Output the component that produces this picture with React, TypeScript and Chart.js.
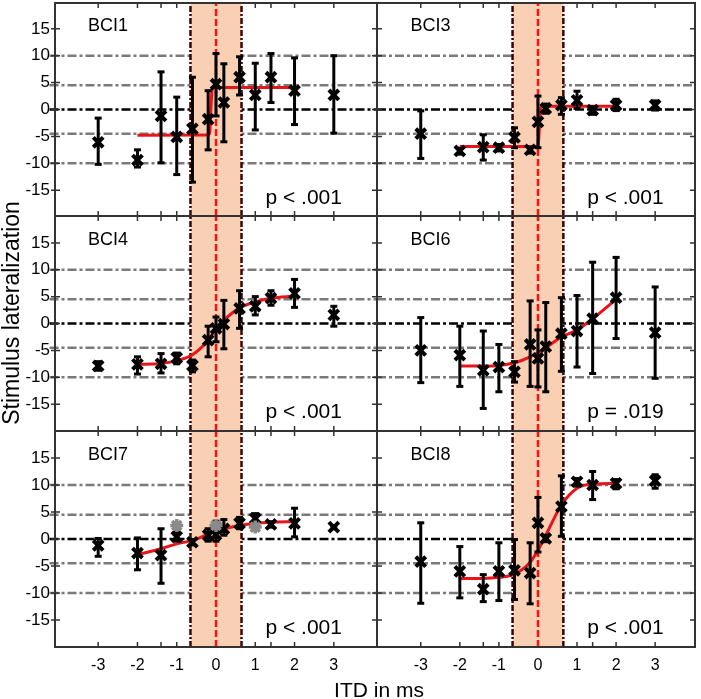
import React, { useEffect, useRef } from 'react';
import { Chart, registerables } from 'chart.js';

Chart.register(...registerables);

const FONT = '"Liberation Sans", Arial, Helvetica, sans-serif';
Chart.defaults.font.family = FONT;

// ---------- data ----------
const ITD = [-3, -2, -1.4, -1, -0.6, -0.2, 0, 0.2, 0.6, 1, 1.4, 2, 3];
const X_TICK_LABELS = [-3, -2, -1, 0, 1, 2, 3];
const X_MINOR_TICKS = [-3, -2, -1.4, -1, 1, 1.4, 2, 3];
const Y_TICKS = [-15, -10, -5, 0, 5, 10, 15];
const GRAY_REF_LINES = [-10, -4.5, 4.5, 10];
const ZERO_LINE = 0;
const BAND_EDGES = [-0.65, 0.65];
const CENTER_LINE = 0;

const BCI1_MEAN = [-6.1, -9.4, -1.2, -5.1, -3.6, -1.8, 4.7, 1.3, 6.0, 2.7, 6.0, 3.5, 2.7];
const BCI1_LO = [-10.2, -10.7, -9.9, -12.1, -13.5, -7.5, -1.2, -6.0, 2.7, -3.8, 1.3, -2.8, -4.4];
const BCI1_HI = [-1.6, -7.5, 7.0, 2.3, 6.0, 3.5, 10.4, 8.5, 9.8, 8.6, 10.4, 9.6, 10.0];
const BCI1_FIT_X = [-2, -0.2, -0.16, -0.13, -0.1, -0.05, 2];
const BCI1_FIT_Y = [-4.8, -4.75, -4.2, 0, 3.7, 4.1, 4.1];

const BCI3_MEAN = [-4.5, -7.7, -7.0, -7.1, -5.2, -7.5, -2.3, 0.2, 0.8, 1.7, -0.1, 0.8, 0.8];
const BCI3_LO = [-9.1, -8.3, -9.4, -7.7, -7.1, -8.1, -7.1, -0.7, -0.9, 0.2, -0.9, -0.2, -0.1];
const BCI3_HI = [-0.25, -7.2, -4.7, -6.5, -3.4, -7.0, 2.5, 1.0, 2.2, 3.4, 0.5, 1.9, 1.6];
const BCI3_FIT_X = [-2, -0.02, 0.01, 0.04, 0.07, 0.12, 2];
const BCI3_FIT_Y = [-6.9, -6.9, -6.3, -3.0, 0.2, 0.6, 0.6];

const BCI4_MEAN = [-7.9, -7.6, -7.5, -6.4, -7.8, -3.1, -0.9, -0.1, 2.8, 3.2, 4.7, 5.6, 1.6];
const BCI4_LO = [-8.7, -9.4, -9.2, -7.5, -9.0, -6.2, -3.4, -4.7, -0.9, 1.6, 3.4, 3.0, -0.5];
const BCI4_HI = [-7.1, -6.2, -5.6, -5.5, -6.8, -0.5, 1.2, 4.3, 6.1, 5.0, 6.1, 8.2, 3.2];
const BCI4_FIT_X = [-2, -1.4, -1, -0.6, -0.2, 0, 0.2, 0.6, 1, 1.4, 2];
const BCI4_FIT_Y = [-7.6, -7.45, -6.9, -5.8, -3.1, -1.0, 0.6, 2.9, 4.0, 4.7, 5.1];

const BCI6_MEAN = [-5.0, -5.9, -8.7, -8.1, -9.0, -3.9, -6.5, -4.3, -1.9, -1.4, 0.9, 4.8, -1.7];
const BCI6_LO = [-11.0, -11.7, -15.8, -12.7, -10.9, -11.7, -11.8, -12.7, -8.9, -8.1, -9.3, -2.8, -10.2];
const BCI6_HI = [1.1, -0.5, -1.4, -3.9, -7.1, 4.2, -1.2, 3.9, 4.8, 5.2, 11.4, 12.3, 6.8];
const BCI6_FIT_X = [-2, -1.4, -1, -0.6, -0.2, 0.2, 0.6, 1, 1.4, 2];
const BCI6_FIT_Y = [-7.9, -7.9, -7.8, -7.3, -6.2, -4.5, -2.5, -1.2, 0.9, 4.5];

const BCI7_MEAN = [-1.2, -2.6, -3.0, 0.4, -0.6, 0.7, 0.8, 1.9, 2.9, 3.8, 2.7, 2.9, 2.2];
const BCI7_LO = [-3.2, -5.7, -8.2, -0.4, -1.1, -0.4, -0.4, 0.7, 1.9, 2.9, 2.2, 0.4, 1.9];
const BCI7_HI = [0.1, 0.2, 1.9, 1.3, -0.1, 1.9, 3.3, 3.6, 4.0, 4.7, 3.2, 5.7, 2.5];
const BCI7_FIT_X = [-2, -1.4, -1, -0.6, -0.2, 0, 0.2, 0.6, 1, 1.4, 2];
const BCI7_FIT_Y = [-2.9, -1.8, -0.9, -0.25, 0.9, 1.5, 1.9, 2.5, 2.9, 3.1, 3.2];
const BCI7_GRAY_X = [-1, 0, 1];
const BCI7_GRAY_Y = [2.5, 2.5, 2.2];

const BCI8_MEAN = [-4.2, -6.0, -9.3, -6.0, -5.8, -6.3, 3.0, 0.1, 6.0, 10.6, 10.0, 10.3, 10.8];
const BCI8_LO = [-11.9, -10.9, -11.6, -11.4, -11.2, -12.0, -2.4, -0.5, 0.5, 9.8, 7.3, 9.3, 9.4];
const BCI8_HI = [3.0, -1.4, -6.6, -0.7, -0.1, -0.7, 7.7, 0.7, 11.7, 11.2, 12.5, 11.0, 11.9];
const BCI8_FIT_X = [-2, -1.4, -1, -0.6, -0.2, 0, 0.2, 0.6, 1, 1.4, 2];
const BCI8_FIT_Y = [-7.3, -7.3, -7.1, -6.5, -4.3, -2.1, 0.7, 6.3, 9.4, 10.2, 10.3];

type PanelDef = {
  name: string; pText: string; col: number; row: number;
  mean: number[]; lo: number[]; hi: number[]; fitX: number[]; fitY: number[];
  grayX?: number[]; grayY?: number[];
};

const PANELS: PanelDef[] = [
  { name: 'BCI1', pText: 'p < .001', col: 0, row: 0, mean: BCI1_MEAN, lo: BCI1_LO, hi: BCI1_HI, fitX: BCI1_FIT_X, fitY: BCI1_FIT_Y },
  { name: 'BCI3', pText: 'p < .001', col: 1, row: 0, mean: BCI3_MEAN, lo: BCI3_LO, hi: BCI3_HI, fitX: BCI3_FIT_X, fitY: BCI3_FIT_Y },
  { name: 'BCI4', pText: 'p < .001', col: 0, row: 1, mean: BCI4_MEAN, lo: BCI4_LO, hi: BCI4_HI, fitX: BCI4_FIT_X, fitY: BCI4_FIT_Y },
  { name: 'BCI6', pText: 'p = .019', col: 1, row: 1, mean: BCI6_MEAN, lo: BCI6_LO, hi: BCI6_HI, fitX: BCI6_FIT_X, fitY: BCI6_FIT_Y },
  { name: 'BCI7', pText: 'p < .001', col: 0, row: 2, mean: BCI7_MEAN, lo: BCI7_LO, hi: BCI7_HI, fitX: BCI7_FIT_X, fitY: BCI7_FIT_Y, grayX: BCI7_GRAY_X, grayY: BCI7_GRAY_Y },
  { name: 'BCI8', pText: 'p < .001', col: 1, row: 2, mean: BCI8_MEAN, lo: BCI8_LO, hi: BCI8_HI, fitX: BCI8_FIT_X, fitY: BCI8_FIT_Y },
];

// ---------- layout ----------
const W = 701;
const H = 699;
const COLS = [
  { left: 55, right: 377, min: -4.1, max: 4.1 },
  { left: 377, right: 695, min: -4.12, max: 4.02 },
];
const ROWS = [
  { top: 3, bottom: 216, min: -19.8, max: 19.8 },
  { top: 216, bottom: 431, min: -20, max: 20 },
  { top: 431, bottom: 647, min: -20, max: 20 },
];
const NAME_POS = { x: -3.26, y: 14.6 };
const P_POS = { x: 1.26, y: -17.5 };

function PanelChart({ p }: { p: PanelDef }) {
  const ref = useRef<HTMLCanvasElement>(null);
  useEffect(() => {
    const col = COLS[p.col];
    const row = ROWS[p.row];
    const showY = p.col === 0;
    const showX = p.row === 2;
    const yAxisW = showY ? col.left : 0;
    const xAxisH = showX ? H - row.bottom : 0;
    const pts = (xs: number[], ys: number[]) => xs.map((x, i) => ({ x, y: ys[i] }));
    const datasets: any[] = [];
    const ext = p.col === 0 ? 0.14 : 0;

    [ZERO_LINE, ...GRAY_REF_LINES].forEach((v) => {
      datasets.push({
        type: 'line', showLine: true,
        data: [{ x: col.min - ext, y: v }, { x: col.max, y: v }],
        borderColor: v === ZERO_LINE ? '#000000' : '#7a7a7a',
        borderWidth: 2.5, borderDash: [9, 3, 3, 3], pointRadius: 0,
        order: 60, clip: { left: 6, top: 0, right: 0, bottom: 0 },
      });
    });
    datasets.push({
      type: 'line', showLine: true,
      data: [{ x: BAND_EDGES[0], y: row.max }, { x: BAND_EDGES[1], y: row.max }],
      borderWidth: 0, fill: 'start', backgroundColor: '#f9d0b4', pointRadius: 0, order: 50,
    });
    BAND_EDGES.forEach((v) => {
      datasets.push({
        type: 'line', showLine: true,
        data: [{ x: v, y: row.min }, { x: v, y: row.max }],
        borderColor: '#3c0505', borderWidth: 2.5, borderDash: [6, 2, 2, 2], pointRadius: 0, order: 40,
      });
    });
    datasets.push({
      type: 'line', showLine: true,
      data: [{ x: CENTER_LINE, y: row.min }, { x: CENTER_LINE, y: row.max }],
      borderColor: '#ff1010', borderWidth: 2.5, borderDash: [7, 3], pointRadius: 0, order: 39,
    });
    datasets.push({
      type: 'line', showLine: true,
      data: pts(p.fitX, p.fitY),
      borderColor: '#e8141a', borderWidth: 3, cubicInterpolationMode: 'monotone', pointRadius: 0, order: 30,
    });
    const bars: any[] = [];
    ITD.forEach((x, i) => { bars.push({ x, y: p.lo[i] }, { x, y: p.hi[i] }, { x, y: null }); });
    datasets.push({
      type: 'line', showLine: true, data: bars, spanGaps: false,
      borderColor: '#000000', borderWidth: 3, pointRadius: 0, order: 20,
    });
    const caps: any[] = [];
    ITD.forEach((x, i) => { caps.push({ x, y: p.lo[i] }, { x, y: p.hi[i] }); });
    datasets.push({
      type: 'scatter', data: caps, pointStyle: 'line', pointRadius: 3.5,
      pointBorderWidth: 3, pointBorderColor: '#000000', borderColor: '#000000', order: 15,
    });
    datasets.push({
      type: 'scatter', data: pts(ITD, p.mean), pointStyle: 'crossRot', pointRadius: 7,
      pointBorderWidth: 4, pointBorderColor: '#000000', borderColor: '#000000', order: 10,
    });
    if (p.grayX && p.grayY) {
      datasets.push({
        type: 'scatter', data: pts(p.grayX, p.grayY), pointStyle: 'star', pointRadius: 6.5,
        pointBorderWidth: 3.5, pointBorderColor: '#8a8a8a', borderColor: '#8a8a8a', order: 5,
      });
    }

    const zeroPad = (s: any) => { s.paddingLeft = 0; s.paddingRight = 0; s.paddingTop = 0; s.paddingBottom = 0; };
    const border = { display: true, color: '#333333', width: 2, z: 1 };

    const deco = {
      id: 'deco',
      afterDraw(chart: any) {
        const { ctx, chartArea: a, scales } = chart;
        const xs = scales.x;
        const ys = scales.y;
        ctx.save();
        ctx.strokeStyle = '#333333';
        ctx.lineWidth = 1.5;
        ctx.beginPath();
        X_MINOR_TICKS.forEach((v) => {
          const px = xs.getPixelForValue(v);
          ctx.moveTo(px, a.bottom); ctx.lineTo(px, a.bottom - 5);
          ctx.moveTo(px, a.top); ctx.lineTo(px, a.top + 5);
        });
        Y_TICKS.forEach((v) => {
          const py = ys.getPixelForValue(v);
          ctx.moveTo(a.left - (p.col === 0 ? 4 : 0), py); ctx.lineTo(a.left + 5, py);
          ctx.moveTo(a.right - 5, py); ctx.lineTo(a.right, py);
        });
        ctx.stroke();
        ctx.fillStyle = '#000000';
        ctx.textBaseline = 'alphabetic';
        ctx.textAlign = 'left';
        ctx.font = `18px ${FONT}`;
        ctx.fillText(p.name, xs.getPixelForValue(NAME_POS.x), ys.getPixelForValue(NAME_POS.y));
        ctx.font = `21px ${FONT}`;
        ctx.fillText(p.pText, xs.getPixelForValue(P_POS.x), ys.getPixelForValue(P_POS.y));
        if (p.col === 0 && p.row === 2) {
          ctx.textAlign = 'center';
          ctx.font = `21px ${FONT}`;
          ctx.fillText('ITD in ms', 379, 697);
          ctx.save();
          ctx.translate(19, 313);
          ctx.rotate(-Math.PI / 2);
          ctx.font = `23px ${FONT}`;
          ctx.fillText('Stimulus lateralization', 0, 0);
          ctx.restore();
        }
        ctx.restore();
      },
    };

    const chart = new Chart(ref.current as HTMLCanvasElement, {
      type: 'scatter',
      data: { datasets },
      options: {
        animation: false,
        responsive: false,
        maintainAspectRatio: false,
        events: [],
        layout: {
          autoPadding: false,
          padding: {
            left: col.left - yAxisW,
            right: W - col.right,
            top: row.top,
            bottom: H - row.bottom - xAxisH,
          },
        },
        plugins: { legend: { display: false }, tooltip: { enabled: false }, title: { display: false } },
        scales: {
          x: {
            type: 'linear', position: 'bottom', min: col.min, max: col.max,
            afterFit: (s: any) => { s.height = xAxisH; zeroPad(s); },
            afterBuildTicks: (s: any) => { s.ticks = X_TICK_LABELS.map((v) => ({ value: v })); },
            grid: { display: false, drawTicks: false },
            border,
            ticks: {
              display: showX, color: '#000000', font: { size: 16, family: FONT }, padding: 9,
              autoSkip: false, maxRotation: 0, minRotation: 0, callback: (v: any) => String(v),
            },
          },
          x2: {
            type: 'linear', position: 'top', min: col.min, max: col.max,
            afterFit: (s: any) => { s.height = 0; zeroPad(s); },
            grid: { display: false, drawTicks: false }, border, ticks: { display: false },
          },
          y: {
            type: 'linear', position: 'left', min: row.min, max: row.max,
            afterFit: (s: any) => { s.width = yAxisW; zeroPad(s); },
            afterBuildTicks: (s: any) => { s.ticks = Y_TICKS.map((v) => ({ value: v })); },
            grid: { display: false, drawTicks: false },
            border,
            ticks: {
              display: showY, color: '#000000', font: { size: 17, family: FONT }, padding: 5,
              autoSkip: false, callback: (v: any) => String(v),
            },
          },
          y2: {
            type: 'linear', position: 'right', min: row.min, max: row.max,
            afterFit: (s: any) => { s.width = 0; zeroPad(s); },
            grid: { display: false, drawTicks: false }, border, ticks: { display: false },
          },
        },
      } as any,
      plugins: [deco],
    } as any);
    return () => chart.destroy();
  }, [p]);
  return (
    <canvas
      ref={ref}
      width={W}
      height={H}
      style={{ position: 'absolute', left: 0, top: 0, width: W, height: H }}
    />
  );
}

export default function App() {
  return (
    <div style={{ position: 'absolute', left: 0, top: 0, width: W, height: H, background: '#ffffff', overflow: 'hidden' }}>
      {PANELS.map((p) => (
        <PanelChart key={p.name} p={p} />
      ))}
    </div>
  );
}
